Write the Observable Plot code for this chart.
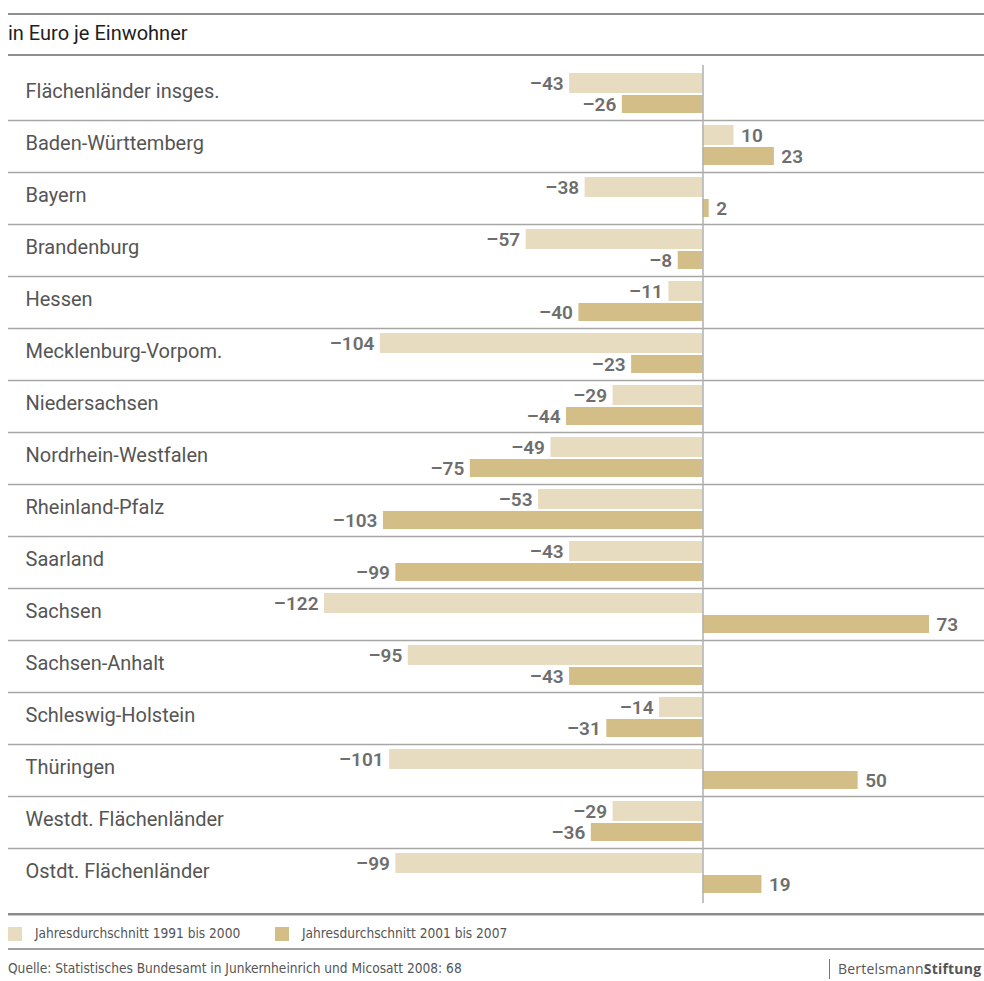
<!DOCTYPE html>
<html>
<head>
<meta charset="utf-8">
<script src="https://cdn.jsdelivr.net/npm/d3@7"></script>
<script src="https://cdn.jsdelivr.net/npm/@observablehq/plot@0.6"></script>
<style>
  html, body { margin: 0; padding: 0; background: #ffffff; }
  #page { position: relative; width: 984px; height: 981px; overflow: hidden; }
  #chart { position: absolute; left: 0; top: 0; }
  .hline { position: absolute; left: 8px; right: 0; background: #8f8f8f; }
  .ov { position: absolute; white-space: nowrap; }
  .narrow { font-family: "Liberation Sans Narrow", "DejaVu Sans Condensed", "Roboto", sans-serif; font-stretch: condensed; }
</style>
</head>
<body>
<div id="page">
  <div id="chart"></div>
  <div class="hline" style="top:13px;height:2px;"></div>
  <div class="ov" style="left:8px;top:21px;font-family:Roboto, sans-serif;font-size:20px;color:#1e1e1e;">in Euro je Einwohner</div>
  <div class="hline" style="top:54px;height:2px;"></div>
  <div class="hline" style="top:913px;height:2px;background:#8a8a8a;"></div>
  <div class="hline" style="top:915px;height:1px;background:#c8c8c8;"></div>
  <div id="legend"></div>
  <div class="hline" style="top:948px;height:2px;background:#a0a0a0;"></div>
  <div class="ov narrow" style="left:8px;top:960px;font-size:13.6px;color:#555;">Quelle: Statistisches Bundesamt in Junkernheinrich und Micosatt 2008: 68</div>
  <div class="ov" style="left:829px;top:959px;width:1px;height:20px;background:#777;"></div>
  <div class="ov" style="left:838px;top:959px;font-family:'Open Sans', sans-serif;font-size:14px;color:#555;letter-spacing:0.2px;">Bertelsmann<b>Stiftung</b></div>
</div>
<script>
const states = ["Flächenländer insges.","Baden-Württemberg","Bayern","Brandenburg","Hessen","Mecklenburg-Vorpom.","Niedersachsen","Nordrhein-Westfalen","Rheinland-Pfalz","Saarland","Sachsen","Sachsen-Anhalt","Schleswig-Holstein","Thüringen","Westdt. Flächenländer","Ostdt. Flächenländer"];
const v1991_2000 = [-43,10,-38,-57,-11,-104,-29,-49,-53,-43,-122,-95,-14,-101,-29,-99];
const v2001_2007 = [-26,23,2,-8,-40,-23,-44,-75,-103,-99,73,-43,-31,50,-36,19];
const seriesNames = ["Jahresdurchschnitt 1991 bis 2000","Jahresdurchschnitt 2001 bis 2007"];
const colors = ["#e7dcc0","#d3be88"];

const d1 = states.map((s, i) => ({state: s, value: v1991_2000[i]}));
const d2 = states.map((s, i) => ({state: s, value: v2001_2007[i]}));
const fmt = v => (v < 0 ? "\u2013" + Math.abs(v) : String(v));

const valueFont = {fontSize: 19, fontWeight: 600, fill: "#6e6e6e", fontFamily: "Roboto, sans-serif"};

function labels(data, dy) {
  return [
    Plot.text(data.filter(d => d.value < 0), {x: "value", y: "state", text: d => fmt(d.value), textAnchor: "end", dx: -6, dy, ...valueFont}),
    Plot.text(data.filter(d => d.value >= 0), {x: "value", y: "state", text: d => fmt(d.value), textAnchor: "start", dx: 7, dy, ...valueFont})
  ];
}

const chart = Plot.plot({
  width: 984,
  height: 981,
  marginTop: 68,
  marginBottom: 81,
  marginLeft: 8,
  marginRight: 0,
  style: {background: "transparent"},
  x: {domain: [-122, 73], range: [324, 929], axis: null},
  y: {domain: states, paddingInner: 0, paddingOuter: 0, axis: null},
  marks: [
    Plot.ruleY(states.slice(0, -1), {y: d => d, dy: 26, stroke: "#a6a6a6", strokeWidth: 1.5}),
    Plot.barX(d1, {x: "value", y: "state", fill: colors[0], insetTop: 5, insetBottom: 27}),
    Plot.barX(d2, {x: "value", y: "state", fill: colors[1], insetTop: 27, insetBottom: 7}),
    Plot.ruleX([0], {stroke: "#b0b0b0", strokeWidth: 1.5, insetTop: -3, insetBottom: -3}),
    ...labels(d1, -11),
    ...labels(d2, 10),
    Plot.text(states, {y: d => d, text: d => d, frameAnchor: "left", textAnchor: "start", dx: 17, dy: -3, fontSize: 20, fill: "#555", fontFamily: "Roboto, sans-serif"})
  ]
});
document.getElementById("chart").appendChild(chart);

const legend = document.getElementById("legend");
const lx = [8, 275];
seriesNames.forEach((name, i) => {
  const sw = document.createElement("div");
  sw.className = "ov";
  sw.style.cssText = `left:${lx[i]}px;top:927px;width:14px;height:14px;background:${colors[i]};`;
  legend.appendChild(sw);
  const t = document.createElement("div");
  t.className = "ov narrow";
  t.style.cssText = `left:${lx[i] + 27}px;top:925px;font-size:13.6px;color:#555;`;
  t.textContent = name;
  legend.appendChild(t);
});
</script>
</body>
</html>
